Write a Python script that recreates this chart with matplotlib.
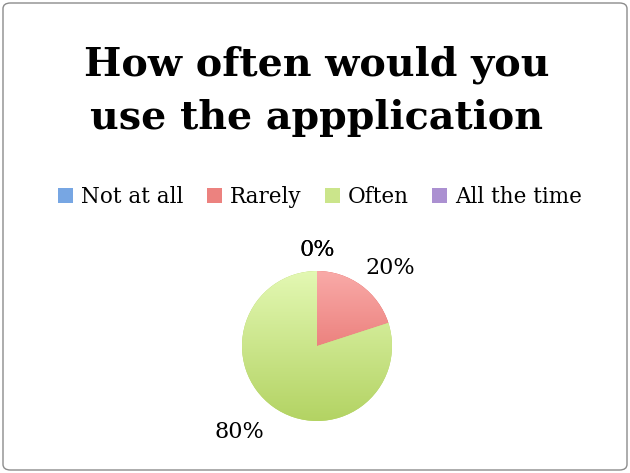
import numpy as np
import matplotlib
matplotlib.use("Agg")
import matplotlib.pyplot as plt
from matplotlib.patches import FancyBboxPatch, Rectangle
from matplotlib.colors import LinearSegmentedColormap, to_rgb

# -------------------- data ----------------------------------------------
title = "How often would you\nuse the appplication"
categories = ["Not at all", "Rarely", "Often", "All the time"]
values = [0, 20, 80, 0]
pct_labels = ["0%", "20%", "80%", "0%"]

# top (light) / bottom (dark) gradient colours per slice
tops = ["#a4c8f7", "#f9aaa8", "#e3f8b3", "#c9b5e6"]
bots = ["#4a84cf", "#df5a55", "#b3d363", "#8d6bbb"]
# label placement: radial distance and angular nudge (deg) off the wedge middle
label_dist = [1.28, 1.43, 1.54, 1.28]
label_turn = [0, -7, -6, 0]

FONT = "DejaVu Serif"

# -------------------- figure --------------------------------------------
fig = plt.figure(figsize=(6.3, 4.73), dpi=100)
fig.patch.set_facecolor("white")
fig.patches.append(FancyBboxPatch((3/630, 3/473), 624/630, 467/473,
                                  boxstyle="round,pad=0,rounding_size=0.012",
                                  transform=fig.transFigure, fill=False,
                                  edgecolor="#8c8c8c", linewidth=1.0))

fig.text(0.502, 0.808, title, ha="center", va="center", fontsize=28.5,
         fontweight="bold", family=FONT, linespacing=1.5)

# pie axes: centre (317,346)px, radius 75px
R = 75.0
cx, cy, half = 317, 346, 100
ax = fig.add_axes([(cx-half)/630, (473-cy-half)/473, 2*half/630, 2*half/473])

wedges, _ = ax.pie(values, startangle=90, counterclock=False, radius=1,
                   colors=bots, wedgeprops=dict(linewidth=0))

for w, v, t, b in zip(wedges, values, tops, bots):
    if v == 0:
        continue
    cm = LinearSegmentedColormap.from_list("g", [b, t])
    grad = np.linspace(0, 1, 256).reshape(-1, 1)
    im = ax.imshow(grad, cmap=cm, extent=[-1, 1, -1, 1], origin="lower",
                   aspect="auto", zorder=w.get_zorder() + 0.1)
    im.set_clip_path(w)
lim = half / R
ax.set_xlim(-lim, lim); ax.set_ylim(-lim, lim)
ax.set_aspect("equal"); ax.axis("off")

for w, lab, d, turn in zip(wedges, pct_labels, label_dist, label_turn):
    ang = np.deg2rad((w.theta1 + w.theta2) / 2 + turn)
    ax.text(d*np.cos(ang), d*np.sin(ang), lab, ha="center", va="center",
            fontsize=16, family=FONT, color="black")

# legend
handles = [Rectangle((0, 0), 1, 1,
                     facecolor=(np.array(to_rgb(t)) + np.array(to_rgb(b))) / 2,
                     edgecolor="none") for t, b in zip(tops, bots)]
fig.legend(handles, categories, loc="center", bbox_to_anchor=(0.508, 0.583),
           ncol=4, frameon=False, prop=dict(family=FONT, size=15.5),
           handlelength=0.7, handleheight=0.7, handletextpad=0.35,
           columnspacing=1.1)

fig.savefig("out.png", dpi=100)
